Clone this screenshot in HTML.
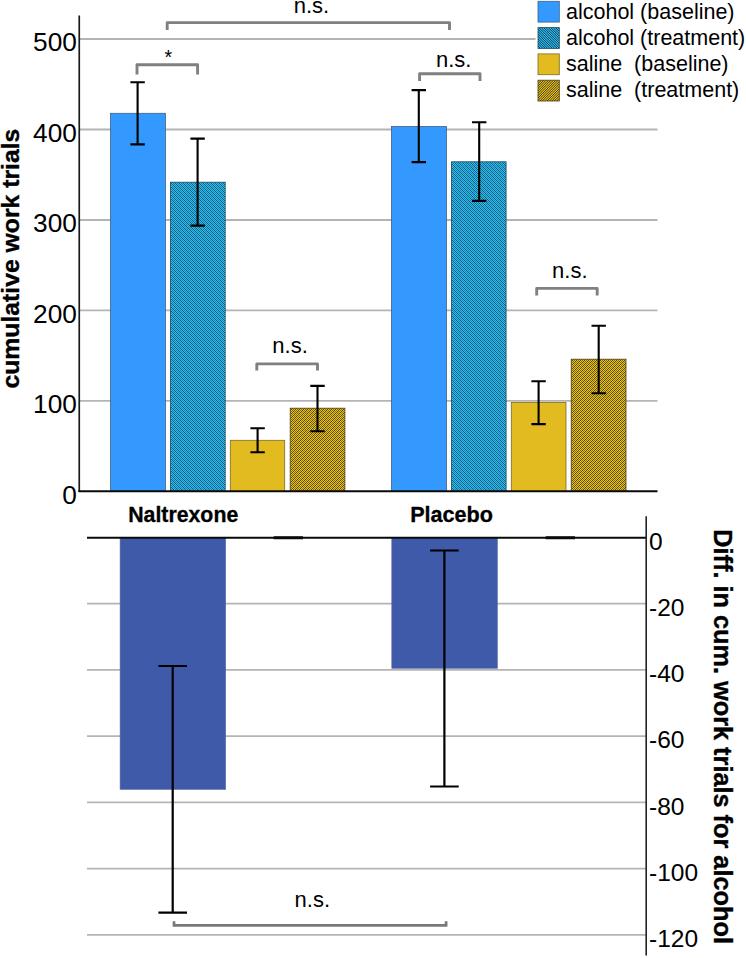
<!DOCTYPE html>
<html><head><meta charset="utf-8"><title>chart</title>
<style>html,body{margin:0;padding:0;background:#fff;}svg{display:block;}text{font-family:"Liberation Sans",sans-serif;fill:#000;}.b{font-weight:bold;}</style>
</head><body>
<svg width="746" height="958" viewBox="0 0 746 958">
<defs>
<pattern id="hb" width="4" height="4" patternUnits="userSpaceOnUse" shape-rendering="crispEdges"><rect width="4" height="4" fill="#2ebcf0"/><rect x="0" y="0" width="1" height="1" fill="#105877"/><rect x="2" y="0" width="1" height="1" fill="#1d81a9"/><rect x="1" y="1" width="1" height="1" fill="#105877"/><rect x="3" y="1" width="1" height="1" fill="#1d81a9"/><rect x="0" y="2" width="1" height="1" fill="#1d81a9"/><rect x="2" y="2" width="1" height="1" fill="#105877"/><rect x="1" y="3" width="1" height="1" fill="#1d81a9"/><rect x="3" y="3" width="1" height="1" fill="#105877"/></pattern>
<pattern id="hy" width="4" height="4" patternUnits="userSpaceOnUse" shape-rendering="crispEdges"><rect width="4" height="4" fill="#e8c220"/><rect x="0" y="0" width="1" height="1" fill="#56460c"/><rect x="2" y="0" width="1" height="1" fill="#836c12"/><rect x="1" y="1" width="1" height="1" fill="#836c12"/><rect x="3" y="1" width="1" height="1" fill="#56460c"/><rect x="0" y="2" width="1" height="1" fill="#836c12"/><rect x="2" y="2" width="1" height="1" fill="#56460c"/><rect x="1" y="3" width="1" height="1" fill="#56460c"/><rect x="3" y="3" width="1" height="1" fill="#836c12"/></pattern>
<pattern id="lb" width="24.0" height="24.0" patternUnits="userSpaceOnUse"><rect width="24.0" height="24.0" fill="#2ebcf0"/><path d="M-26.40,0L-2.40,24.00M-24.00,0L0.00,24.00M-21.60,0L2.40,24.00M-19.20,0L4.80,24.00M-16.80,0L7.20,24.00M-14.40,0L9.60,24.00M-12.00,0L12.00,24.00M-9.60,0L14.40,24.00M-7.20,0L16.80,24.00M-4.80,0L19.20,24.00M-2.40,0L21.60,24.00M0.00,0L24.00,24.00M2.40,0L26.40,24.00M4.80,0L28.80,24.00M7.20,0L31.20,24.00M9.60,0L33.60,24.00M12.00,0L36.00,24.00M14.40,0L38.40,24.00M16.80,0L40.80,24.00M19.20,0L43.20,24.00M21.60,0L45.60,24.00M24.00,0L48.00,24.00M26.40,0L50.40,24.00M28.80,0L52.80,24.00M31.20,0L55.20,24.00M33.60,0L57.60,24.00M36.00,0L60.00,24.00M38.40,0L62.40,24.00M40.80,0L64.80,24.00M43.20,0L67.20,24.00M45.60,0L69.60,24.00M48.00,0L72.00,24.00M50.40,0L74.40,24.00" stroke="#04283a" stroke-width="0.85"/></pattern>
<pattern id="ly" width="24.0" height="24.0" patternUnits="userSpaceOnUse"><rect width="24.0" height="24.0" fill="#e8c220"/><path d="M-26.40,0L-50.40,24.00M-24.00,0L-48.00,24.00M-21.60,0L-45.60,24.00M-19.20,0L-43.20,24.00M-16.80,0L-40.80,24.00M-14.40,0L-38.40,24.00M-12.00,0L-36.00,24.00M-9.60,0L-33.60,24.00M-7.20,0L-31.20,24.00M-4.80,0L-28.80,24.00M-2.40,0L-26.40,24.00M0.00,0L-24.00,24.00M2.40,0L-21.60,24.00M4.80,0L-19.20,24.00M7.20,0L-16.80,24.00M9.60,0L-14.40,24.00M12.00,0L-12.00,24.00M14.40,0L-9.60,24.00M16.80,0L-7.20,24.00M19.20,0L-4.80,24.00M21.60,0L-2.40,24.00M24.00,0L0.00,24.00M26.40,0L2.40,24.00M28.80,0L4.80,24.00M31.20,0L7.20,24.00M33.60,0L9.60,24.00M36.00,0L12.00,24.00M38.40,0L14.40,24.00M40.80,0L16.80,24.00M43.20,0L19.20,24.00M45.60,0L21.60,24.00M48.00,0L24.00,24.00M50.40,0L26.40,24.00" stroke="#282004" stroke-width="0.85"/></pattern>
</defs>
<rect width="746" height="958" fill="#fff"/>
<line x1="80" x2="657.5" y1="400.9" y2="400.9" stroke="#b4b4b4" stroke-width="1.8"/>
<line x1="80" x2="657.5" y1="310.4" y2="310.4" stroke="#b4b4b4" stroke-width="1.8"/>
<line x1="80" x2="657.5" y1="220.0" y2="220.0" stroke="#b4b4b4" stroke-width="1.8"/>
<line x1="80" x2="657.5" y1="129.5" y2="129.5" stroke="#b4b4b4" stroke-width="1.8"/>
<line x1="80" x2="657.5" y1="39.0" y2="39.0" stroke="#b4b4b4" stroke-width="1.8"/>
<line x1="87" x2="646" y1="603.7" y2="603.7" stroke="#b4b4b4" stroke-width="1.8"/>
<line x1="87" x2="646" y1="669.9" y2="669.9" stroke="#b4b4b4" stroke-width="1.8"/>
<line x1="87" x2="646" y1="736.2" y2="736.2" stroke="#b4b4b4" stroke-width="1.8"/>
<line x1="87" x2="646" y1="802.4" y2="802.4" stroke="#b4b4b4" stroke-width="1.8"/>
<line x1="87" x2="646" y1="868.6" y2="868.6" stroke="#b4b4b4" stroke-width="1.8"/>
<line x1="87" x2="646" y1="934.8" y2="934.8" stroke="#b4b4b4" stroke-width="1.8"/>
<rect x="110.5" y="113.3" width="54.9" height="378.1" fill="#3399ff" stroke="#3c6088" stroke-width="0.8"/>
<rect x="170.5" y="182.2" width="54.7" height="309.2" fill="url(#hb)" stroke="#174a5c" stroke-width="0.8"/>
<rect x="230.3" y="440.3" width="54.4" height="51.1" fill="#e2bb20" stroke="#7d6c2a" stroke-width="0.8"/>
<rect x="290.2" y="408.2" width="54.7" height="83.2" fill="url(#hy)" stroke="#4a3d0c" stroke-width="0.8"/>
<rect x="391.5" y="126.5" width="54.9" height="364.9" fill="#3399ff" stroke="#3c6088" stroke-width="0.8"/>
<rect x="451.4" y="161.8" width="54.7" height="329.6" fill="url(#hb)" stroke="#174a5c" stroke-width="0.8"/>
<rect x="511.3" y="402.4" width="54.7" height="89.0" fill="#e2bb20" stroke="#7d6c2a" stroke-width="0.8"/>
<rect x="571.2" y="359.2" width="54.8" height="132.2" fill="url(#hy)" stroke="#4a3d0c" stroke-width="0.8"/>
<line x1="79.25" x2="79.25" y1="15.5" y2="492.09999999999997" stroke="#1a1a1a" stroke-width="1.7"/>
<line x1="78.4" x2="657.5" y1="491.15" y2="491.15" stroke="#0a0a0a" stroke-width="2"/>
<path d="M137.6,82.2V144.4M130.4,82.2H144.79999999999998M130.4,144.4H144.79999999999998" stroke="#000" stroke-width="2.1" fill="none"/>
<path d="M197.6,138.6V225.6M190.4,138.6H204.79999999999998M190.4,225.6H204.79999999999998" stroke="#000" stroke-width="2.1" fill="none"/>
<path d="M257.6,428.3V452.3M250.40000000000003,428.3H264.8M250.40000000000003,452.3H264.8" stroke="#000" stroke-width="2.1" fill="none"/>
<path d="M317.5,385.9V431.3M310.3,385.9H324.7M310.3,431.3H324.7" stroke="#000" stroke-width="2.1" fill="none"/>
<path d="M418.8,90.1V162.1M411.6,90.1H426.0M411.6,162.1H426.0" stroke="#000" stroke-width="2.1" fill="none"/>
<path d="M479.2,122.2V200.9M472.0,122.2H486.4M472.0,200.9H486.4" stroke="#000" stroke-width="2.1" fill="none"/>
<path d="M538.6,381.3V424.1M531.4,381.3H545.8000000000001M531.4,424.1H545.8000000000001" stroke="#000" stroke-width="2.1" fill="none"/>
<path d="M598.7,325.8V393.2M591.5,325.8H605.9000000000001M591.5,393.2H605.9000000000001" stroke="#000" stroke-width="2.1" fill="none"/>
<path d="M137,74.5V64.7H197.6V74.5" stroke="#808080" stroke-width="2.9" stroke-linejoin="round" fill="none"/>
<path d="M167.2,30V22.6H449.5V30" stroke="#808080" stroke-width="2.9" stroke-linejoin="round" fill="none"/>
<path d="M419.6,81V73.8H480V81" stroke="#808080" stroke-width="2.9" stroke-linejoin="round" fill="none"/>
<path d="M256.8,370.6V363.9H317.5V370.6" stroke="#808080" stroke-width="2.9" stroke-linejoin="round" fill="none"/>
<path d="M536.7,295.6V288.4H597.2V295.6" stroke="#808080" stroke-width="2.9" stroke-linejoin="round" fill="none"/>
<text x="293.7" y="12.9" font-size="22">n.s.</text>
<text x="435.9" y="66.5" font-size="22">n.s.</text>
<text x="272.3" y="353" font-size="22">n.s.</text>
<text x="552.1" y="277.8" font-size="22">n.s.</text>
<text x="164.6" y="64.4" font-size="19.6">*</text>
<text transform="translate(76.9,503.7) scale(1.03,1)" font-size="25.5" text-anchor="end">0</text>
<text transform="translate(76.9,413.2) scale(1.03,1)" font-size="25.5" text-anchor="end">100</text>
<text transform="translate(76.9,322.7) scale(1.03,1)" font-size="25.5" text-anchor="end">200</text>
<text transform="translate(76.9,232.3) scale(1.03,1)" font-size="25.5" text-anchor="end">300</text>
<text transform="translate(76.9,141.8) scale(1.03,1)" font-size="25.5" text-anchor="end">400</text>
<text transform="translate(76.9,51.3) scale(1.03,1)" font-size="25.5" text-anchor="end">500</text>
<text class="b" transform="translate(19.4,258.6) rotate(-90)" font-size="24.75" stroke="#000" stroke-width="0.35" text-anchor="middle">cumulative work trials</text>
<text class="b" x="183.2" y="522" font-size="21.3" stroke="#000" stroke-width="0.3" text-anchor="middle">Naltrexone</text>
<text class="b" x="451.6" y="522" font-size="21.6" stroke="#000" stroke-width="0.3" text-anchor="middle">Placebo</text>
<rect x="535.5" y="0" width="211" height="104" fill="#fff"/>
<rect x="538" y="1.3" width="21.3" height="20.8" fill="#3399ff" stroke="#3c6088" stroke-width="0.8"/>
<text x="566" y="19.2" font-size="21.5" xml:space="preserve">alcohol (baseline)</text>
<rect x="538" y="27.6" width="21.3" height="20.8" fill="url(#lb)" stroke="#174a5c" stroke-width="0.8"/>
<text x="566" y="45.1" font-size="21.5" xml:space="preserve">alcohol (treatment)</text>
<rect x="538" y="53.9" width="21.3" height="20.8" fill="#e2bb20" stroke="#7d6c2a" stroke-width="0.8"/>
<text x="566" y="71.0" font-size="21.5" xml:space="preserve">saline  (baseline)</text>
<rect x="538" y="80.2" width="21.3" height="20.8" fill="url(#ly)" stroke="#4a3d0c" stroke-width="0.8"/>
<text x="566" y="96.9" font-size="21.5" xml:space="preserve">saline  (treatment)</text>
<rect x="120.1" y="537.5" width="105.6" height="251.9" fill="#3f5aa9" stroke="#5b6d9f" stroke-width="0.6"/>
<rect x="391.8" y="537.5" width="105.6" height="130.8" fill="#3f5aa9" stroke="#5b6d9f" stroke-width="0.6"/>
<line x1="87" x2="646.5" y1="537.8" y2="537.8" stroke="#0a0a0a" stroke-width="2.1"/>
<path d="M273.7,537.8H303M545.7,537.8H575" stroke="#0a0a0a" stroke-width="3"/>
<line x1="646.2" x2="646.2" y1="516.3" y2="955.6" stroke="#222" stroke-width="1.6"/>
<path d="M172.7,666.0V912.7M158.39999999999998,666.0H187.0M158.39999999999998,912.7H187.0" stroke="#000" stroke-width="2.2" fill="none"/>
<path d="M444.4,550.5V786.5M430.09999999999997,550.5H458.7M430.09999999999997,786.5H458.7" stroke="#000" stroke-width="2.2" fill="none"/>
<path d="M174,921.2V925.3H446.1V921.2" stroke="#787878" stroke-width="2.7" fill="none"/>
<text x="294.6" y="907.3" font-size="22">n.s.</text>
<text x="649" y="549.7" font-size="24.5">0</text>
<text x="649" y="615.9" font-size="24.5">-20</text>
<text x="649" y="682.1" font-size="24.5">-40</text>
<text x="649" y="748.4" font-size="24.5">-60</text>
<text x="649" y="814.6" font-size="24.5">-80</text>
<text x="649" y="880.8" font-size="24.5">-100</text>
<text x="649" y="947.0" font-size="24.5">-120</text>
<text class="b" transform="translate(713.5,736.6) rotate(90)" font-size="25.3" stroke="#000" stroke-width="0.35" text-anchor="middle">Diff. in cum. work trials for alcohol</text>
</svg></body></html>
